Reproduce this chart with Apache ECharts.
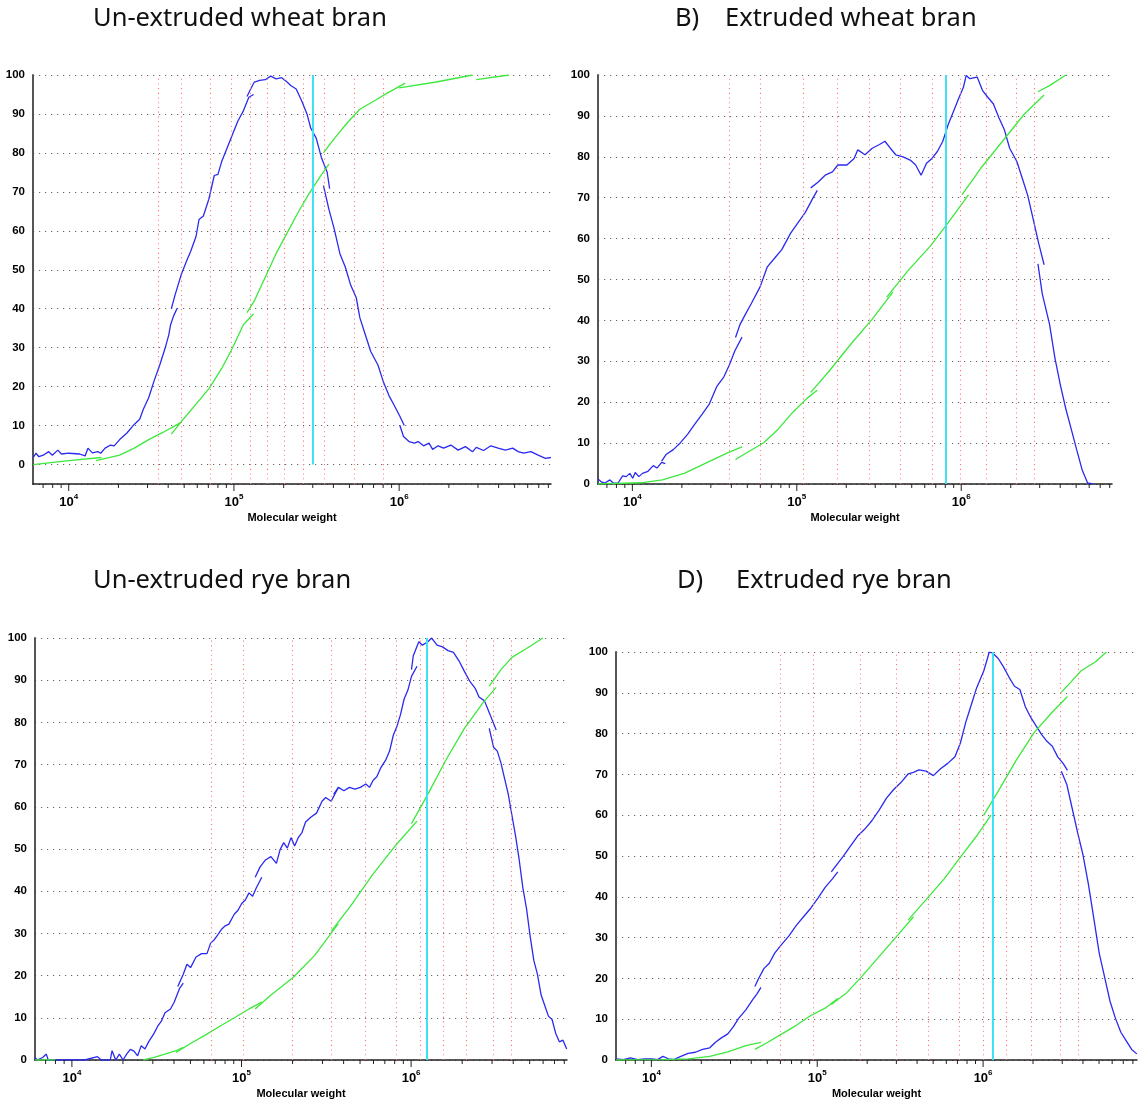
<!DOCTYPE html>
<html>
<head>
<meta charset="utf-8">
<title>Molecular weight distribution of bran</title>
<script src="https://cdn.jsdelivr.net/npm/echarts@6/dist/echarts.min.js"></script>
<style>
  html, body { margin: 0; padding: 0; background: #fff; }
  #chart { width: 1138px; height: 1102px; }
</style>
</head>
<body>
<div id="chart"></div>
<script>
// --- A) un-extruded wheat bran ---
var wheatRawBlue = [
  [[6100, 1.8], [6340, 2.9], [6600, 2.0], [7010, 2.4], [7570, 3.3], [7960, 2.4], [8590, 3.7], [9040, 2.7], [10000, 2.9],
   [11640, 2.7], [12560, 2.2], [13080, 4.2], [13900, 3.0], [15000, 3.3], [15630, 2.9], [16610, 4.2], [17920, 5.0],
   [18850, 4.8], [20340, 6.4], [22510, 8.1], [24920, 10.3], [26890, 11.6], [28290, 14.2], [30520, 17.2], [32940, 21.6],
   [35530, 25.5], [38350, 29.9], [40340, 33.3], [41370, 35.9], [43090, 38.1], [45330, 40.1]],
  [[41790, 40.0], [44000, 43.5], [48180, 49.0], [51990, 52.5], [54690, 54.7], [59020, 58.6], [61460, 62.9], [65310, 63.8],
   [70470, 68.1], [76030, 74.2], [80000, 74.5], [84200, 77.7], [90810, 81.2], [98000, 84.7], [105700, 88.2],
   [114100, 90.8], [123100, 94.3], [131500, 95.0]],
  [[120000, 94.5], [126300, 96.4], [132800, 98.2], [143300, 98.6], [154700, 98.8], [166900, 99.7], [180100, 99.0],
   [194400, 99.3], [209700, 98.2], [220600, 97.3], [238100, 96.4], [256900, 93.4], [277200, 89.9], [291600, 86.4],
   [314700, 83.8], [339500, 78.6], [366400, 75.1], [379600, 70.8]],
  [[348300, 71.6], [375800, 65.5], [405500, 60.3], [437500, 54.2], [472100, 50.7], [509300, 46.0], [549700, 42.9],
   [578200, 37.7], [624100, 33.3], [673300, 29.0], [745100, 25.5], [804400, 21.1], [867800, 17.7], [936400, 15.1],
   [1010000, 12.4], [1073000, 10.0]],
  [[1010000, 10.0], [1063000, 7.2], [1147000, 5.9], [1237000, 5.5], [1302000, 5.9], [1405000, 4.8], [1516000, 5.5],
   [1594000, 3.9], [1721000, 4.8], [1857000, 4.2], [2055000, 5.0], [2275000, 3.7], [2517000, 4.6], [2785000, 3.3],
   [2931000, 4.4], [3243000, 3.6], [3591000, 4.8], [3973000, 4.2], [4398000, 3.7], [4867000, 4.2], [5253000, 3.3],
   [5666000, 2.9], [6271000, 3.3], [6939000, 2.4], [7681000, 1.6], [8287000, 1.8]]
];
var wheatRawGreen = [
  [[6100, 0], [10000, 1.0], [15790, 1.8]],
  [[14630, 1.0], [20340, 2.4], [24920, 4.2], [30520, 6.4], [37380, 8.3], [48180, 10.9]],
  [[41790, 7.8], [48180, 11.1], [59020, 15.5], [70470, 19.4], [84200, 24.6], [98000, 29.9], [114100, 35.9], [131500, 38.7]],
  [[120000, 39.0], [132800, 42.0], [154700, 48.1], [180100, 54.2], [209700, 59.4], [244300, 64.7], [284300, 69.5],
   [331000, 73.8], [375800, 77.1]],
  [[348300, 80.0], [385400, 82.5], [448700, 86.0], [496600, 88.2], [578200, 91.2], [708600, 93.4], [867800, 95.6], [1090000, 97.9]],
  [[1000000, 96.7], [1678000, 98.2], [2785000, 100]],
  [[2931000, 98.8], [4626000, 100]]
];
var wheatRawStandards = [35000, 48000, 71500, 97000, 126000, 160000, 203000, 262000, 350000, 535000, 800000];
var wheatRawPeak = 300000;

// --- B) extruded wheat bran ---
var wheatExtBlue = [
  [[6180, 1.2], [6435, 0.6], [6770, 0.2], [7303, 1.0], [7683, 0.2], [8207, 0.3], [8721, 2.0], [9176, 1.8], [9652, 2.6],
   [10050, 1.4], [10410, 2.8], [10950, 1.8], [11520, 2.6], [12430, 3.1], [13410, 4.5], [14110, 3.9], [15070, 5.3], [15860, 5.0]],
  [[15070, 5.6], [16020, 7.2], [17730, 8.4], [19620, 10.1], [21710, 12.2], [24030, 14.7], [26590, 17.1], [29420, 19.6],
   [32560, 23.8], [36030, 26.2], [38880, 29.1], [41960, 32.5], [46420, 35.9]],
  [[42380, 35.8], [45270, 39.1], [48840, 41.6], [52710, 44.0], [59810, 48.2], [66180, 53.1], [73230, 55.2], [81030, 57.3],
   [91990, 61.4], [101800, 63.9], [112700, 66.4], [124600, 69.7], [133200, 71.8]],
  [[121500, 72.4], [134500, 73.8], [148800, 75.5], [164700, 76.3], [177700, 78.0], [201700, 78.0], [223200, 79.6],
   [234900, 81.7], [259900, 80.5], [287600, 82.1], [318300, 83.0], [343400, 83.8], [370600, 82.1], [399900, 80.5],
   [442500, 80.0], [489600, 79.2], [528400, 78.0], [570100, 75.5], [615100, 78.4], [663700, 79.6], [716100, 81.3],
   [772700, 83.8], [833700, 87.9], [899600, 91.2], [970000, 94.5], [1031000, 97.0], [1073000, 99.9], [1129000, 99.1],
   [1250000, 99.5], [1348000, 96.2], [1455000, 94.5], [1570000, 92.9], [1693000, 89.6], [1827000, 86.7], [1971000, 82.1],
   [2182000, 78.8], [2354000, 74.7], [2540000, 70.5], [2741000, 64.7], [2957000, 58.9], [3191000, 53.6]],
  [[2928000, 53.8], [3111000, 46.5], [3443000, 39.1], [3715000, 30.8], [4009000, 24.2], [4325000, 18.4], [4667000, 13.4],
   [5036000, 8.4], [5433000, 3.5], [5862000, 0.3], [6325000, 0]]
];
var wheatExtGreen = [
  [[6180, 0], [11230, 0.3], [15230, 1.0], [20640, 2.6], [27970, 5.1], [37910, 7.6], [46420, 9.1]],
  [[42380, 6.0], [51380, 8.0], [62920, 10.1], [77030, 13.4], [94340, 17.5], [115600, 21.0], [133200, 22.9]],
  [[121500, 22.4], [156600, 27.5], [212200, 34.1], [287600, 40.3], [383800, 46.9]],
  [[352300, 45.7], [477400, 52.3], [647000, 58.1], [833700, 63.9], [1107000, 70.7]],
  [[1010000, 70.7], [1315000, 77.2], [1782000, 83.8], [2415000, 90.4], [3191000, 95.1]],
  [[2928000, 95.9], [3443000, 97.4], [4325000, 100]]
];
var wheatExtStandards = [39100, 60100, 110000, 176000, 276000, 425000, 664000, 991000, 1420000, 2150000, 2780000];
var wheatExtPeak = 803000;

// --- C) un-extruded rye bran ---
var ryeRawBlue = [
  [[6063, 0.6], [6244, 0], [6727, 0.6], [7068, 1.4], [7246, 0], [8000, 0], [11890, 0], [14150, 0.8], [14870, 0],
   [16830, 0], [17250, 2.2], [18130, 0], [19050, 1.4], [20010, 0], [21030, 1.4], [22110, 2.5], [23230, 2.1],
   [24410, 1.0], [25650, 3.4], [26960, 2.6], [28330, 4.3], [30500, 6.3], [32060, 8.0], [33690, 9.2], [35400, 11.2],
   [38140, 12.1], [40080, 13.7], [43160, 17.0], [45360, 18.2]],
  [[42110, 17.4], [45360, 20.3], [47660, 22.7], [50080, 21.9], [53950, 24.4], [58110, 25.2], [62590, 25.2], [65780, 27.7],
   [69110, 28.5], [72630, 29.7], [76330, 31.0], [80210, 31.8], [84290, 32.2], [90790, 34.6], [95390, 35.5], [100200, 37.1],
   [105300, 37.9], [110700, 39.6], [116300, 38.8], [122300, 40.8], [131700, 43.3]],
  [[120400, 43.3], [128500, 45.7], [138400, 47.4], [149100, 48.2], [160600, 46.6], [168700, 49.8], [177300, 51.5],
   [186300, 50.2], [195800, 52.7], [205700, 50.7], [216200, 52.7], [227200, 53.9], [238700, 56.4], [257100, 57.6],
   [276900, 58.5], [298300, 61.3], [313500, 62.2], [337700, 61.3], [354800, 63.0], [372900, 64.6]],
  [[349600, 63.0], [372900, 64.6], [401800, 63.8], [432800, 64.6], [466200, 64.2], [502200, 64.6], [540800, 65.4],
   [568400, 64.6], [597200, 66.3], [627600, 67.1], [659500, 69.1], [710400, 71.2], [746500, 73.2], [784500, 76.9],
   [824300, 79.0], [866300, 81.9], [910300, 85.6], [956400, 87.6], [1005000, 90.9], [1083000, 93.3]],
  [[1005000, 92.5], [1030000, 95.8], [1110000, 99.1], [1166000, 98.3], [1256000, 99.1], [1320000, 100], [1422000, 98.3],
   [1531000, 97.9], [1650000, 97.0], [1777000, 96.6], [1914000, 94.6], [2062000, 92.1], [2221000, 89.7], [2393000, 88.0],
   [2514000, 86.0], [2708000, 85.1], [2917000, 81.9], [3173000, 78.2]],
  [[2888000, 78.6], [3066000, 74.1], [3222000, 73.2], [3385000, 70.4], [3558000, 66.7], [3738000, 63.0], [3929000, 58.0],
   [4128000, 53.1], [4338000, 47.4], [4559000, 40.8], [4790000, 35.9], [5034000, 29.3], [5289000, 23.6], [5558000, 20.3],
   [5841000, 15.4], [6137000, 12.9], [6449000, 10.4], [6776000, 9.6], [7121000, 6.3], [7482000, 4.3], [7862000, 4.7],
   [8262000, 2.6]]
];
var ryeRawGreen = [
  [[6063, 0], [8000, 0]],
  [[26300, 0], [30500, 0.6], [35400, 1.4], [41080, 2.2], [45360, 3.0]],
  [[41080, 1.8], [50080, 3.9], [61060, 5.9], [74430, 8.0], [90790, 10.0], [110700, 12.1], [131700, 13.7]],
  [[120400, 12.1], [149100, 15.4], [200700, 19.5], [270100, 24.8], [363800, 31.8], [372900, 32.2]],
  [[337700, 30.5], [443600, 36.7], [597200, 44.1], [804300, 50.7], [1083000, 56.6]],
  [[1005000, 56.0], [1256000, 63.0], [1610000, 71.2], [2062000, 78.6], [2655000, 84.7], [3173000, 88.3]],
  [[2888000, 88.6], [3385000, 92.5], [3929000, 95.4], [4790000, 97.5], [5988000, 100]]
];
var ryeRawStandards = [66400, 103000, 198000, 336000, 538000, 817000, 1130000, 1550000, 2120000, 3070000, 3870000];
var ryeRawPeak = 1240000;

// --- D) extruded rye bran ---
var ryeExtBlue = [
  [[6124, 0.3], [6767, 0.1], [7482, 0.5], [8269, 0.1], [9139, 0.3], [10100, 0.3], [10890, 0.1], [11740, 0.9], [12650, 0.3],
   [13640, 0.1], [15070, 0.9], [16660, 1.6], [18420, 1.9], [20360, 2.6], [22500, 3.0], [24260, 4.3], [26150, 5.3],
   [28900, 6.4], [31160, 8.1], [33590, 10.2], [37120, 12.3], [41020, 14.9], [43140, 16.1], [45810, 17.8]],
  [[42070, 18.0], [44230, 19.9], [47690, 22.4], [51390, 23.7], [55410, 26.2], [61240, 28.4], [67680, 30.5], [74800, 33.0],
   [82660, 35.1], [91400, 37.2], [101000, 39.7], [111600, 42.3], [123400, 44.4], [133000, 46.1]],
  [[121600, 46.1], [133000, 48.2], [143400, 49.9], [158500, 52.4], [175200, 54.9], [193600, 56.6], [214000, 58.7],
   [236600, 61.3], [261500, 64.2], [289000, 66.3], [319400, 68.0], [353000, 70.1], [380500, 70.5], [410200, 71.1],
   [453400, 70.8], [501200, 69.7], [554000, 71.4], [612300, 72.7], [676800, 74.3], [729500, 77.7], [786500, 82.8],
   [847900, 87.0], [914000, 91.2], [1010000, 95.4], [1062000, 98.4], [1089000, 100], [1145000, 99.7], [1234000, 98.4],
   [1330000, 96.3], [1434000, 93.8], [1546000, 91.6], [1666000, 90.8], [1797000, 86.6], [1936000, 84.0], [2087000, 81.9],
   [2250000, 79.8], [2426000, 78.1], [2615000, 76.9], [2818000, 74.3], [3038000, 72.7], [3226000, 71.0]],
  [[2963000, 70.8], [3193000, 67.6], [3443000, 61.7], [3711000, 55.8], [4001000, 50.3], [4313000, 43.1], [4650000, 34.7],
   [5012000, 26.2], [5403000, 20.3], [5825000, 14.4], [6280000, 10.2], [6769000, 6.8], [7298000, 4.7], [7866000, 2.6],
   [8450000, 1.5]]
];
var ryeExtGreen = [
  [[6124, 0], [11740, 0.1], [16660, 0.3], [22500, 0.9], [28900, 2.0], [37120, 3.5], [45810, 4.3]],
  [[42070, 2.6], [50120, 4.3], [61240, 6.4], [74800, 8.5], [91400, 10.9], [111600, 12.7], [133000, 15.1]],
  [[121600, 13.6], [150800, 16.5], [184200, 20.3], [236600, 25.4], [303900, 30.5], [380500, 35.1]],
  [[353000, 34.3], [453400, 39.3], [582500, 44.4], [747900, 50.3], [914000, 54.9], [1116000, 60.0]],
  [[1010000, 60.0], [1234000, 65.9], [1585000, 73.5], [2035000, 80.3], [2615000, 85.3], [3226000, 89.1]],
  [[2963000, 90.1], [3358000, 92.5], [3902000, 95.4], [4767000, 97.6], [5540000, 100]]
];
var ryeExtStandards = [59700, 95000, 181000, 301000, 468000, 714000, 1000000, 1370000, 1960000, 2920000, 3770000];
var ryeExtPeak = 1150000;

// axis ticks
var decadeTicks = [1e4, 1e5, 1e6];
var minorTicks = [7e3, 8e3, 9e3, 2e4, 3e4, 4e4, 5e4, 6e4, 7e4, 8e4, 9e4,
  2e5, 3e5, 4e5, 5e5, 6e5, 7e5, 8e5, 9e5, 2e6, 3e6, 4e6, 5e6, 6e6, 7e6, 8e6];

var BLUE = '#2a2af0';
var GREEN = '#3de83d';
var FONT = 'Liberation Sans, Arial, sans-serif';

var panels = [
  { blue: wheatRawBlue, green: wheatRawGreen, standards: wheatRawStandards, peak: wheatRawPeak,
    xMin: 6080, xMax: 8300000, yMin: -5, box: { left: 33, top: 75, width: 518, height: 409 } },
  { blue: wheatExtBlue, green: wheatExtGreen, standards: wheatExtStandards, peak: wheatExtPeak,
    xMin: 6180, xMax: 8260000, yMin: 0, box: { left: 598, top: 75, width: 514, height: 409 } },
  { blue: ryeRawBlue, green: ryeRawGreen, standards: ryeRawStandards, peak: ryeRawPeak,
    xMin: 6060, xMax: 8300000, yMin: 0, box: { left: 35, top: 638, width: 532, height: 422 } },
  { blue: ryeExtBlue, green: ryeExtGreen, standards: ryeExtStandards, peak: ryeExtPeak,
    xMin: 6120, xMax: 8470000, yMin: 0, box: { left: 616, top: 652, width: 521, height: 408 } }
];

function powerLabel(v) {
  var e = Math.round(Math.log(v) / Math.LN10);
  if (Math.abs(v - Math.pow(10, e)) > v * 1e-6) return '';
  return '{b|10}{s|' + e + '}';
}

function tickSeries(i, values, yMin, len) {
  return {
    type: 'custom', xAxisIndex: i, yAxisIndex: i, silent: true, clip: false, animation: false, z: 5,
    data: values.map(function (v) { return [v, yMin]; }),
    renderItem: function (params, api) {
      var p = api.coord([api.value(0), api.value(1)]);
      return {
        type: 'line',
        shape: { x1: p[0], y1: p[1], x2: p[0], y2: p[1] + len },
        style: { stroke: '#222', lineWidth: 1 }
      };
    }
  };
}

var grids = [], xAxes = [], yAxes = [], series = [];

panels.forEach(function (pn, i) {
  grids.push({ left: pn.box.left, top: pn.box.top, width: pn.box.width, height: pn.box.height });

  xAxes.push({
    type: 'log', logBase: 10, gridIndex: i, min: pn.xMin, max: pn.xMax,
    name: 'Molecular weight', nameLocation: 'middle', nameGap: 28,
    nameTextStyle: { fontFamily: FONT, fontWeight: 'bold', fontSize: 11, color: '#000' },
    axisLine: { onZero: false, lineStyle: { color: '#222', width: 1.5 } },
    axisTick: { show: false },
    splitLine: { show: false },
    minorTick: { show: false },
    axisLabel: {
      margin: 9, formatter: powerLabel, showMinLabel: false, showMaxLabel: false,
      rich: {
        b: { fontFamily: FONT, fontWeight: 'bold', fontSize: 13, color: '#000', lineHeight: 16, verticalAlign: 'bottom' },
        s: { fontFamily: FONT, fontWeight: 'bold', fontSize: 8, color: '#000', lineHeight: 8, verticalAlign: 'top' }
      }
    }
  });

  var y = {
    type: 'value', gridIndex: i, min: pn.yMin, max: 100,
    axisLine: { show: true, lineStyle: { color: '#555', width: 2 } },
    axisTick: { show: false },
    axisLabel: {
      fontFamily: FONT, fontWeight: 'bold', fontSize: 11.5, color: '#000', margin: 8,
      formatter: function (v) { return v < 0 ? '' : String(v); }
    },
    splitLine: { show: true, lineStyle: { color: '#666', width: 1.2, type: [1.2, 4.8] } }
  };
  if (pn.yMin === 0) { y.interval = 10; } else { y.splitNumber = 10; }
  yAxes.push(y);

  var marks = pn.standards.map(function (v) { return { xAxis: v }; });
  marks.push([
    { coord: [pn.peak, 0], lineStyle: { color: '#3fe2f5', width: 2, type: 'solid', opacity: 1 } },
    { coord: [pn.peak, 100] }
  ]);

  pn.blue.forEach(function (seg, k) {
    var s = {
      type: 'line', xAxisIndex: i, yAxisIndex: i, data: seg, showSymbol: false, silent: true,
      animation: false, z: 3, lineStyle: { color: BLUE, width: 1.3 }
    };
    if (k === 0) {
      s.markLine = {
        symbol: ['none', 'none'], silent: true, animation: false, label: { show: false },
        lineStyle: { color: '#ff7878', width: 1.1, type: [1.1, 3.6], opacity: 1 },
        emphasis: { disabled: true },
        data: marks
      };
    }
    series.push(s);
  });
  pn.green.forEach(function (seg) {
    series.push({
      type: 'line', xAxisIndex: i, yAxisIndex: i, data: seg, showSymbol: false, silent: true,
      animation: false, z: 4, lineStyle: { color: GREEN, width: 1.3 }
    });
  });

  series.push(tickSeries(i, decadeTicks, pn.yMin, 7));
  series.push(tickSeries(i, minorTicks.filter(function (v) { return v > pn.xMin && v < pn.xMax; }), pn.yMin, 4));
});

var titleStyle = { fontFamily: 'Noto Sans, Open Sans, sans-serif', fontSize: 25.5, fontWeight: 'normal', color: '#111' };
var titles = [
  { text: 'Un-extruded wheat bran', left: 93, top: 6 },
  { text: 'B)', left: 675, top: 6 },
  { text: 'Extruded wheat bran', left: 725, top: 6 },
  { text: 'Un-extruded rye bran', left: 93, top: 568 },
  { text: 'D)', left: 677, top: 568 },
  { text: 'Extruded rye bran', left: 736, top: 568 }
].map(function (t) { t.padding = 0; t.textStyle = titleStyle; return t; });

var chart = echarts.init(document.getElementById('chart'), null, { renderer: 'canvas' });
chart.setOption({
  backgroundColor: '#fff',
  animation: false,
  title: titles,
  grid: grids,
  xAxis: xAxes,
  yAxis: yAxes,
  series: series
});
</script>
</body>
</html>
